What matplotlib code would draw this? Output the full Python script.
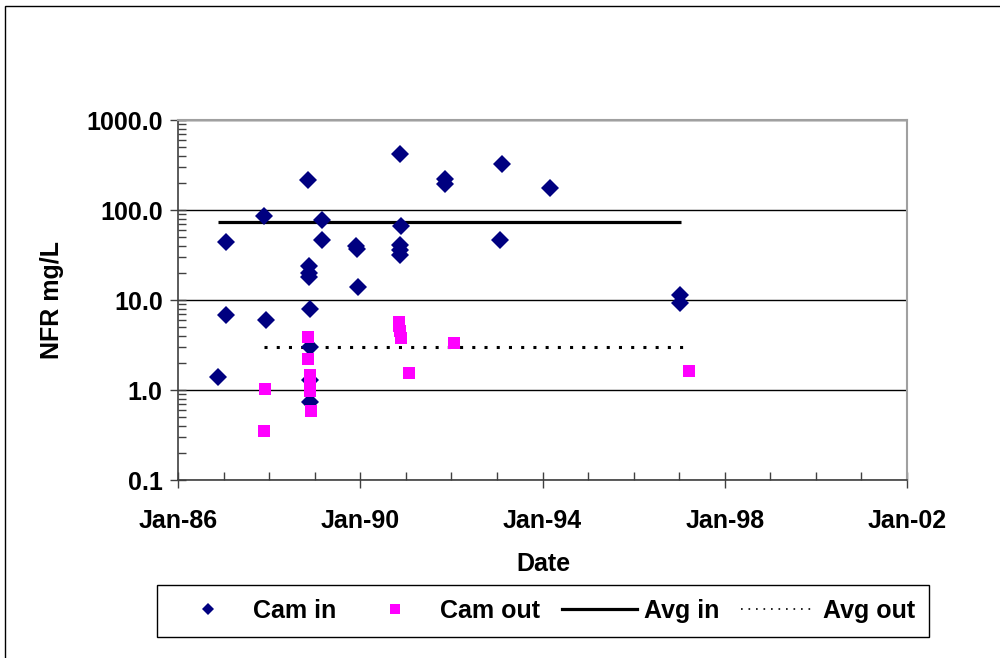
import pandas as pd
import numpy as np
from matplotlib import pyplot as plt
import matplotlib.dates as mdates
from matplotlib.lines import Line2D
from matplotlib.patches import Rectangle
from matplotlib.ticker import FuncFormatter, LogLocator, FixedLocator

plt.rcParams['font.family'] = ['Liberation Sans', 'DejaVu Sans']
plt.rcParams['font.weight'] = 'bold'

# sample dates and NFR values
cam_in_dates = ['1986-11-15', '1987-01-20', '1987-01-20', '1987-11-25', '1987-12-10',
                '1988-11-10', '1988-11-20', '1988-11-20', '1988-11-20', '1988-11-22',
                '1988-11-22', '1988-11-25', '1988-11-22', '1989-02-25', '1989-02-25',
                '1989-12-01', '1989-12-05', '1989-12-15', '1990-11-15', '1990-11-25',
                '1990-11-15', '1990-11-15', '1990-11-15', '1991-11-15', '1991-11-15',
                '1993-02-10', '1993-01-28', '1994-03-01', '1997-01-05', '1997-01-05']
cam_in_vals = [1.4, 44, 6.9, 86, 6.0,
               213, 24, 20, 18, 8.0,
               3.0, 1.3, 0.73, 77, 46,
               40, 37, 14, 416, 66,
               41, 36, 31.6, 219, 194,
               322, 46, 174, 11.3, 9.3]

cam_out_dates = ['1987-12-01', '1987-11-25', '1988-11-05', '1988-11-05', '1988-11-22',
                 '1988-11-22', '1988-11-22', '1988-11-22', '1988-12-05', '1990-11-10',
                 '1990-11-10', '1990-11-12', '1990-11-20', '1991-01-30', '1992-01-20',
                 '1997-03-20']
cam_out_vals = [1.02, 0.35, 3.85, 2.2, 1.47,
                1.36, 1.04, 0.97, 0.58, 5.7,
                5.1, 4.5, 3.75, 1.53, 3.3,
                1.61]

avg_in_dates = ['1986-11-15', '1997-01-15']
avg_in_vals = [73, 73]
avg_out_dates = ['1987-11-25', '1997-02-20']
avg_out_vals = [3.0, 3.0]

major_dates = ['1986-01-01', '1990-01-01', '1994-01-01', '1998-01-01', '2002-01-01']

navy = '#000080'
magenta = '#FF00FF'

fig = plt.figure(figsize=(10, 6.58), dpi=100)
ax = fig.add_axes([0.178, 0.2705, 0.729, 0.5471])

ax.plot(pd.to_datetime(avg_in_dates), avg_in_vals, color='black', lw=2.3,
        solid_capstyle='butt', zorder=2)
ax.plot(pd.to_datetime(avg_out_dates), avg_out_vals, color='black', lw=2.2,
        linestyle=(0, (1, 3)), dash_capstyle='butt', zorder=2)
ax.plot(pd.to_datetime(cam_in_dates), cam_in_vals, 'D', color=navy, ms=9.5,
        mec=navy, mew=0, zorder=3)
ax.plot(pd.to_datetime(cam_out_dates), cam_out_vals, 's', color=magenta, ms=8.6,
        mec=magenta, mew=0, zorder=4)

ax.set_yscale('log')
ax.set_ylim(0.1, 1000)
ax.set_xlim(pd.Timestamp('1986-01-01'), pd.Timestamp('2002-01-01'))

ax.yaxis.set_major_locator(LogLocator(base=10, numticks=10))
ax.yaxis.set_minor_locator(LogLocator(base=10, subs=np.arange(2, 10), numticks=20))
ax.yaxis.set_major_formatter(FuncFormatter(lambda v, p: '%.1f' % v))
ax.yaxis.set_minor_formatter(FuncFormatter(lambda v, p: ''))

ax.xaxis.set_major_locator(FixedLocator(mdates.date2num(pd.to_datetime(major_dates))))
ax.xaxis.set_minor_locator(mdates.YearLocator(1, month=1, day=1))
ax.xaxis.set_major_formatter(mdates.DateFormatter('%b-%y'))

ax.tick_params(axis='both', which='major', direction='inout', length=12, width=1,
               color='#404040', labelsize=18, pad=5)
ax.tick_params(axis='both', which='minor', direction='in', length=6, width=1,
               color='#404040')
ax.tick_params(axis='x', which='major', pad=15)

ax.grid(True, which='major', axis='y', color='black', lw=1)
for s in ['top', 'right']:
    ax.spines[s].set_color('#a0a0a0')
    ax.spines[s].set_linewidth(1.5)
for s in ['left', 'bottom']:
    ax.spines[s].set_color('#404040')
    ax.spines[s].set_linewidth(1.2)

fig.text(0.543, 1 - 564 / 658, 'Date', ha='center', va='center', fontsize=18,
         fontweight='bold')
fig.text(0.052, 1 - 300 / 658, 'NFR mg/L', ha='center', va='center', fontsize=18,
         fontweight='bold', rotation=90)

handles = [Line2D([], [], marker='D', ls='none', color=navy, ms=6.5, mew=0),
           Line2D([], [], marker='s', ls='none', color=magenta, ms=6.5, mew=0),
           Line2D([], [], color='black', lw=2.3),
           Line2D([], [], color='black', lw=1.2, linestyle=(0, (1, 3.5)))]
labels = ['Cam in', 'Cam out', 'Avg in', 'Avg out']
leg = fig.legend(handles, labels, loc='center', bbox_to_anchor=(0.543, 1 - 611 / 658),
                 ncol=4, fontsize=18, frameon=True, fancybox=False, edgecolor='black',
                 framealpha=1, handlelength=3.0, handletextpad=0.3, columnspacing=0.85,
                 borderpad=0.55, borderaxespad=0)
leg.get_frame().set_linewidth(1.0)

# outer chart border (runs off the right and bottom edges)
fig.patches.append(Rectangle((0.005, -0.1), 1.1, 0.9909 + 0.1, transform=fig.transFigure,
                             fill=False, edgecolor='black', lw=1.0))

fig.savefig('out.png', dpi=100)
